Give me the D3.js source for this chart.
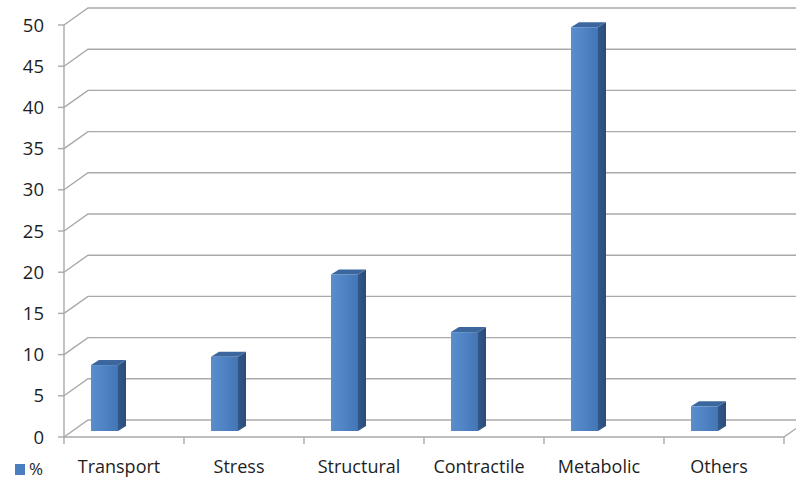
<!DOCTYPE html>
<html>
<head>
<meta charset="utf-8">
<script src="https://cdn.jsdelivr.net/npm/d3@7/dist/d3.min.js"></script>
<style>
  html, body { margin: 0; padding: 0; background: #fff; }
  svg { display: block; }
  text { font-family: "Open Sans", Lato, sans-serif; fill: #1e1e1e; }
</style>
</head>
<body>
<svg id="chart" width="796" height="480"></svg>
<script>
// Protein function classes (% of identified proteins)
const categories = ["Transport", "Stress", "Structural", "Contractile", "Metabolic", "Others"];
const percentValues = [8, 9, 19, 12, 49, 3];
const yTicks = [0, 5, 10, 15, 20, 25, 30, 35, 40, 45, 50];
const seriesName = "%";

const W = 796, H = 480;
const svg = d3.select("#chart");

// Pseudo-3D geometry: front plane and a receding back wall
const depthX = 24, depthY = -17;          // wall depth offset
const barDX = 8, barDY = -5;              // column depth
const barPlaneDY = -6;                    // columns sit slightly behind the front edge

const x = d3.scaleBand().domain(categories).range([64, 784]).paddingInner(0).paddingOuter(0);
const y = d3.scaleLinear().domain([0, 50]).range([437, 25]);

const gridColor = "#a9a9a9";

// Gradients for column faces
const defs = svg.append("defs");
const gFront = defs.append("linearGradient").attr("id", "gFront").attr("x1", "0").attr("x2", "1").attr("y1", "0").attr("y2", "0");
gFront.append("stop").attr("offset", "0").attr("stop-color", "#5a8dcc");
gFront.append("stop").attr("offset", "0.5").attr("stop-color", "#4f83c4");
gFront.append("stop").attr("offset", "1").attr("stop-color", "#4475b4");
const gSide = defs.append("linearGradient").attr("id", "gSide").attr("x1", "0").attr("x2", "1").attr("y1", "0").attr("y2", "0");
gSide.append("stop").attr("offset", "0").attr("stop-color", "#31588a");
gSide.append("stop").attr("offset", "1").attr("stop-color", "#2a4c78");

// Back wall gridlines with their left-wall diagonals
const grid = svg.append("g").attr("fill", "none").attr("stroke", gridColor).attr("stroke-width", 1.4);
yTicks.forEach(t => {
  const yf = y(t);
  grid.append("path").attr("d",
    `M${x.range()[0]},${yf} L${x.range()[0] + depthX},${yf + depthY} L${W + 20},${yf + depthY}`);
});

// Floor front edge and right diagonal
const x0 = x.range()[0], x1 = x.range()[1];
grid.append("path").attr("d", `M${x0},${y(0)} L${x1},${y(0)} L${x1 + depthX},${y(0) + depthY}`);

// Y axis line and tick marks
grid.append("line").attr("x1", x0).attr("x2", x0).attr("y1", y(50)).attr("y2", y(0));
yTicks.forEach(t => {
  grid.append("line").attr("x1", x0 - 6).attr("x2", x0).attr("y1", y(t)).attr("y2", y(t));
});

// Category tick marks on the floor edge
const catEdges = categories.map(c => x(c)).concat([x1]);
catEdges.forEach(cx => {
  grid.append("line").attr("x1", cx).attr("x2", cx).attr("y1", y(0)).attr("y2", y(0) + 7);
});

// Columns
const barOff = x.bandwidth() * 0.225;
const barW = x.bandwidth() * 0.225;
const bars = svg.append("g");
categories.forEach((c, i) => {
  const v = percentValues[i];
  const bx = x(c) + barOff;
  const by0 = y(0) + barPlaneDY;
  const by1 = y(v) + barPlaneDY;
  const g = bars.append("g");
  // side face
  g.append("path")
    .attr("d", `M${bx + barW},${by1} L${bx + barW + barDX},${by1 + barDY} L${bx + barW + barDX},${by0 + barDY} L${bx + barW},${by0} Z`)
    .attr("fill", "url(#gSide)");
  // top face
  g.append("path")
    .attr("d", `M${bx},${by1} L${bx + barDX},${by1 + barDY} L${bx + barW + barDX},${by1 + barDY} L${bx + barW},${by1} Z`)
    .attr("fill", "#3b679e");
  // front face
  g.append("rect")
    .attr("x", bx).attr("y", by1).attr("width", barW).attr("height", by0 - by1)
    .attr("fill", "url(#gFront)");
});

// Y tick labels
svg.append("g").selectAll("text").data(yTicks).join("text")
  .attr("x", 44).attr("y", d => y(d)).attr("dy", "0.36em")
  .attr("text-anchor", "end").attr("font-size", 18.5)
  .text(d => d);

// Category labels
svg.append("g").selectAll("text").data(categories).join("text")
  .attr("x", d => x(d) + x.bandwidth() / 2 - 5).attr("y", 473)
  .attr("text-anchor", "middle").attr("font-size", 18)
  .text(d => d);

// Legend
svg.append("rect").attr("x", 15).attr("y", 464).attr("width", 10).attr("height", 11).attr("fill", "#4a7ebf");
svg.append("text").attr("x", 29).attr("y", 475).attr("font-size", 17).text(seriesName);
</script>
</body>
</html>
